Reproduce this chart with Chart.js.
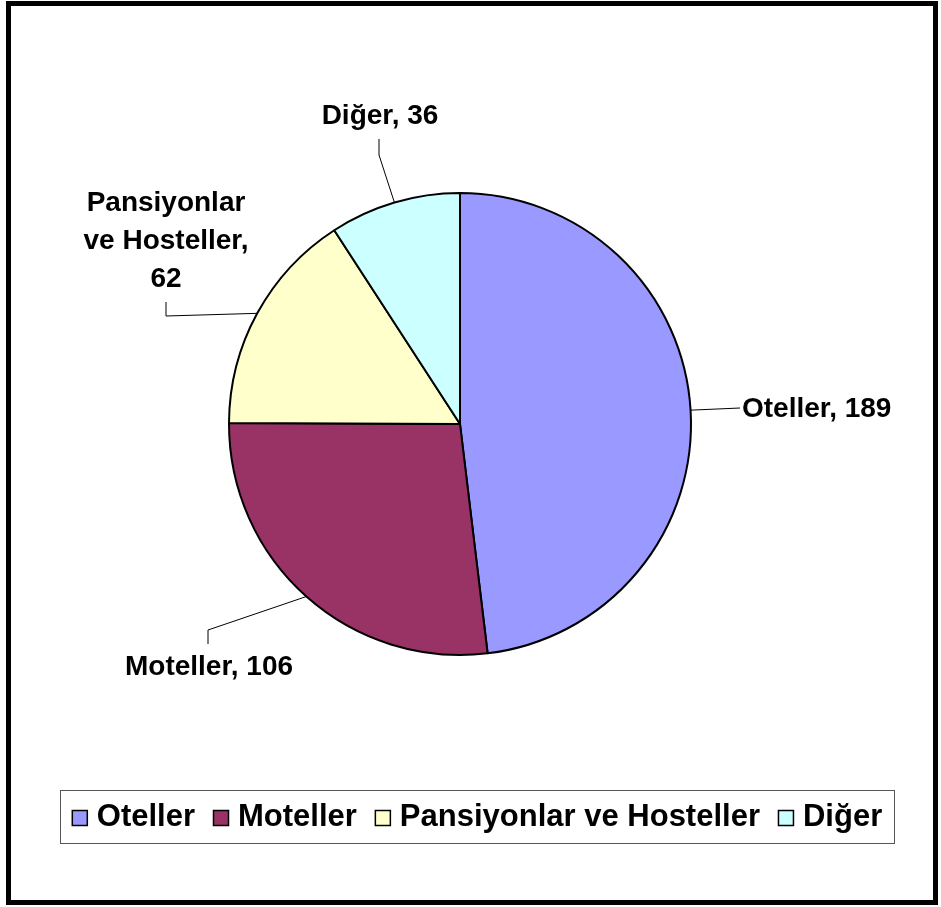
<!DOCTYPE html>
<html>
<head>
<meta charset="utf-8">
<script src="https://cdn.jsdelivr.net/npm/chart.js@4/dist/chart.umd.min.js"></script>
<style>
  body { margin: 0; background: #fff; }
  canvas { display: block; }
</style>
</head>
<body>
<canvas id="pie" width="941" height="907"></canvas>
<script>
const categories = ["Oteller", "Moteller", "Pansiyonlar ve Hosteller", "Diğer"];
const values = [189, 106, 62, 36];
const colors = ["#9999FF", "#993366", "#FFFFCC", "#CCFFFF"];

const FONT = '"Liberation Sans", Arial, sans-serif';

// where each data label sits, relative to the pie centre
const placements = [
    { tx: 282, ty: -16, align: "left", path: [[280, -16]] },
    { tx: -251, ty: 242, align: "center", path: [[-252, 206], [-252, 220]] },
    { tx: -294, ty: -184, align: "center", wrap: 170, path: [[-294, -108], [-294, -122]] },
    { tx: -80, ty: -309, align: "center", path: [[-81, -269], [-81, -285]] }
];

function wrapText(ctx, text, maxW) {
    if (!maxW) return [text];
    const words = text.split(" ");
    const lines = [];
    let cur = "";
    words.forEach(w => {
        const t = cur ? cur + " " + w : w;
        if (cur && ctx.measureText(t).width > maxW) {
            lines.push(cur);
            cur = w;
        } else {
            cur = t;
        }
    });
    if (cur) lines.push(cur);
    return lines;
}

const sliceLabels = {
    id: "sliceLabels",
    afterDatasetsDraw(chart) {
        const ctx = chart.ctx;
        const meta = chart.getDatasetMeta(0);
        ctx.save();
        ctx.font = "bold 28px " + FONT;
        ctx.fillStyle = "#000";
        ctx.textBaseline = "middle";
        meta.data.forEach((arc, i) => {
            const p = placements[i];
            const a = (arc.startAngle + arc.endAngle) / 2;
            const cx = arc.x, cy = arc.y;
            ctx.beginPath();
            ctx.strokeStyle = "#000";
            ctx.lineWidth = 1;
            ctx.moveTo(cx + Math.cos(a) * arc.outerRadius, cy + Math.sin(a) * arc.outerRadius);
            p.path.forEach(pt => ctx.lineTo(cx + pt[0], cy + pt[1]));
            ctx.stroke();

            const text = categories[i] + ", " + values[i];
            const lines = wrapText(ctx, text, p.wrap);
            const lh = 38;
            ctx.textAlign = p.align;
            lines.forEach((ln, k) => {
                const y = cy + p.ty + (k - (lines.length - 1) / 2) * lh;
                ctx.fillText(ln, cx + p.tx, y + 1);
            });
        });
        ctx.restore();
    }
};

const frameAndLegend = {
    id: "frameAndLegend",
    afterDraw(chart) {
        const ctx = chart.ctx;
        ctx.save();
        // outer frame
        ctx.strokeStyle = "#000";
        ctx.lineWidth = 5;
        ctx.strokeRect(8.5, 3.5, 927, 899);

        // legend box
        const bx = 60, by = 790, bw = 834, bh = 53;
        ctx.lineWidth = 1;
        ctx.strokeStyle = "#555";
        ctx.strokeRect(bx + 0.5, by + 0.5, bw, bh);

        ctx.font = "bold 31px " + FONT;
        ctx.textBaseline = "middle";
        ctx.textAlign = "left";
        const box = 15, gapIn = 10, gapOut = 18;
        const items = Chart.overrides.pie.plugins.legend.labels.generateLabels(chart);
        let total = 0;
        items.forEach((it, i) => {
            total += box + gapIn + ctx.measureText(it.text).width;
            if (i < items.length - 1) total += gapOut;
        });
        let x = bx + (bw - total) / 2;
        const midY = by + bh / 2 + 1;
        items.forEach(it => {
            ctx.fillStyle = it.fillStyle;
            ctx.fillRect(x + 0.5, midY - box / 2 + 0.5, box, box);
            ctx.strokeStyle = "#000";
            ctx.lineWidth = 1.5;
            ctx.strokeRect(x + 0.5, midY - box / 2 + 0.5, box, box);
            x += box + gapIn;
            ctx.fillStyle = "#000";
            ctx.fillText(it.text, x, midY);
            x += ctx.measureText(it.text).width + gapOut;
        });
        ctx.restore();
    }
};

const ctx = document.getElementById("pie").getContext("2d");
const chart = new Chart(ctx, {
    type: "pie",
    data: {
        labels: categories,
        datasets: [{
            data: values,
            backgroundColor: colors,
            borderColor: "#000",
            borderWidth: 2
        }]
    },
    options: {
        responsive: false,
        animation: false,
        layout: { padding: { left: 228, top: 192, right: 249, bottom: 251 } },
        plugins: {
            legend: { display: false },
            tooltip: { enabled: false }
        }
    },
    plugins: [sliceLabels, frameAndLegend]
});
</script>
</body>
</html>
